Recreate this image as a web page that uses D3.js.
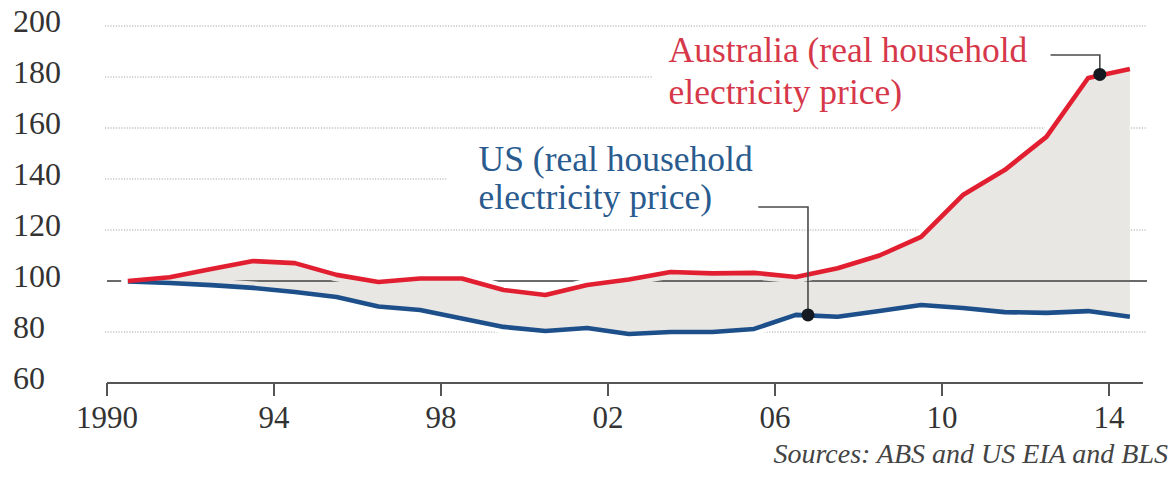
<!DOCTYPE html>
<html>
<head>
<meta charset="utf-8">
<script src="https://cdn.jsdelivr.net/npm/d3@7/dist/d3.min.js"></script>
<style>
  html, body { margin: 0; padding: 0; background: #fff; }
  svg { display: block; }
  text { font-family: "Liberation Serif", "Times New Roman", serif; }
</style>
</head>
<body>
<svg id="chart" width="1174" height="477"></svg>
<script>
// ---- data ----
const years = [1990.5, 1991.5, 1992.5, 1993.5, 1994.5, 1995.5, 1996.5, 1997.5, 1998.5, 1999.5,
               2000.5, 2001.5, 2002.5, 2003.5, 2004.5, 2005.5, 2006.5, 2007.5, 2008.5, 2009.5,
               2010.5, 2011.5, 2012.5, 2013.5, 2014.5];
const australia = [100, 101.5, 104.7, 107.8, 107, 102.4, 99.6, 101, 101, 96.5,
                   94.5, 98.4, 100.6, 103.5, 103, 103.2, 101.6, 105, 110, 117.3,
                   133.7, 143.5, 156.5, 179.6, 183.1];
const us = [99.8, 99.2, 98.4, 97.3, 95.7, 93.7, 90, 88.6, 85.3, 82,
            80.4, 81.6, 79.2, 80, 80, 81.2, 86.7, 86, 88.2, 90.6,
            89.4, 87.8, 87.5, 88.2, 86];
const yTicks = [60, 80, 100, 120, 140, 160, 180, 200];
const xTicks = [1990, 1994, 1998, 2002, 2006, 2010, 2014];
const xTickLabels = ["1990", "94", "98", "02", "06", "10", "14"];
const ausLabel = ["Australia (real household", "electricity price)"];
const usLabel = ["US (real household", "electricity price)"];
const source = "Sources: ABS and US EIA and BLS";
// annotation anchors (data units)
const ausDot = {year: 2013.78, value: 181};
const usDot = {year: 2006.79, value: 86.7};
const ausLabelPos = {year: 2003.45, value: 186};
const usLabelPos = {year: 1998.9, value: 143};
const ausLeader = {year: 2012.6, value: 188.6};
const usLeader = {year: 2005.6, value: 129};

// ---- layout ----
const svg = d3.select("#chart");
const x = d3.scaleLinear().domain([1990, 2014]).range([107, 1109]);
const y = d3.scaleLinear().domain([60, 200]).range([383, 26]);
const gridLeft = 105, gridRight = 1146;

const ausData = years.map((yr, i) => ({yr, v: australia[i]}));
const usData = years.map((yr, i) => ({yr, v: us[i]}));
const line = d3.line().x(d => x(d.yr)).y(d => y(d.v));

const defs = svg.append("defs");
const mask = defs.append("mask").attr("id", "gmask").attr("maskUnits", "userSpaceOnUse")
  .attr("x", 0).attr("y", 0).attr("width", 1174).attr("height", 477);
mask.append("rect").attr("width", 1174).attr("height", 477).attr("fill", "#fff");

// layer groups in drawing order
const gridG = svg.append("g").attr("mask", "url(#gmask)");
const fillG = svg.append("g");
const baseG = svg.append("g").attr("mask", "url(#gmask)");
const lineG = svg.append("g");
const axisG = svg.append("g");
const annG = svg.append("g");
const labelsG = svg.append("g");

// ---- labels ----
function addLabel(lines, pos, color, spacing) {
  const t = labelsG.append("text")
    .attr("x", x(pos.year)).attr("y", y(pos.value))
    .attr("fill", color).attr("font-size", 35.5);
  lines.forEach((s, i) => {
    t.append("tspan").attr("x", x(pos.year)).attr("dy", i === 0 ? 0 : spacing).text(s);
  });
  return t;
}
const ausText = addLabel(ausLabel, ausLabelPos, "#d6384a", 42);
const usText = addLabel(usLabel, usLabelPos, "#2a5b8e", 38);

// knockout areas in mask for gridlines
[[ausText, 16], [usText, 32]].forEach(([t, pad]) => {
  const b = t.node().getBBox();
  mask.append("rect").attr("x", b.x - pad).attr("y", b.y + 4)
    .attr("width", gridRight + 10 - (b.x - pad)).attr("height", b.height - 4)
    .attr("fill", "#000");
});
// line halos in mask
[ausData, usData].forEach(d => {
  mask.append("path").attr("d", line(d)).attr("fill", "none")
    .attr("stroke", "#000").attr("stroke-width", 13).attr("stroke-linecap", "round")
    .attr("stroke-linejoin", "round");
});

// ---- gridlines ----
gridG.selectAll("line").data(yTicks.filter(v => v !== 60 && v !== 100)).join("line")
  .attr("x1", gridLeft).attr("x2", gridRight)
  .attr("y1", d => y(d)).attr("y2", d => y(d))
  .attr("stroke", "#c2c2c2").attr("stroke-width", 1.5).attr("stroke-dasharray", "1.2,1.5");

// ---- area between ----
const area = d3.area().x(d => x(d.yr)).y0((d, i) => y(us[i])).y1(d => y(d.v));
fillG.append("path").attr("d", area(ausData)).attr("fill", "#e9e7e3");

// baseline at 100
baseG.append("line").attr("x1", x(1990)).attr("x2", gridRight + 1)
  .attr("y1", y(100)).attr("y2", y(100)).attr("stroke", "#6a6a6a").attr("stroke-width", 2);

// ---- lines ----
lineG.append("path").attr("d", line(usData)).attr("fill", "none")
  .attr("stroke", "#1d508b").attr("stroke-width", 4.6).attr("stroke-linejoin", "round");
lineG.append("path").attr("d", line(ausData)).attr("fill", "none")
  .attr("stroke", "#e21f30").attr("stroke-width", 4.6).attr("stroke-linejoin", "round");

// ---- x axis ----
axisG.append("line").attr("x1", x(1990)).attr("x2", gridRight - 3)
  .attr("y1", y(60)).attr("y2", y(60)).attr("stroke", "#555").attr("stroke-width", 2);
axisG.selectAll("line.tick").data(xTicks).join("line").attr("class", "tick")
  .attr("x1", d => x(d)).attr("x2", d => x(d))
  .attr("y1", y(60)).attr("y2", y(60) + 13).attr("stroke", "#555").attr("stroke-width", 2);
axisG.selectAll("text.xt").data(xTicks).join("text").attr("class", "xt")
  .attr("x", d => x(d)).attr("y", y(60) + 45).attr("text-anchor", "middle")
  .attr("font-size", 31).attr("fill", "#333")
  .text((d, i) => xTickLabels[i]);

// ---- y labels ----
axisG.selectAll("text.yt").data(yTicks).join("text").attr("class", "yt")
  .attr("x", 13).attr("y", d => y(d) + 6)
  .attr("font-size", 32).attr("fill", "#333").text(d => d);

// ---- leaders & dots ----
const leadG = annG.append("g").attr("fill", "none").attr("stroke", "#4a4a4a").attr("stroke-width", 1.6);
leadG.append("polyline").attr("points", [
  [x(ausLeader.year), y(ausLeader.value)], [x(ausDot.year), y(ausLeader.value)], [x(ausDot.year), y(ausDot.value)]
].join(" "));
leadG.append("polyline").attr("points", [
  [x(usLeader.year), y(usLeader.value)], [x(usDot.year), y(usLeader.value)], [x(usDot.year), y(usDot.value)]
].join(" "));
annG.selectAll("circle").data([ausDot, usDot]).join("circle")
  .attr("cx", d => x(d.year)).attr("cy", d => y(d.value)).attr("r", 6.5).attr("fill", "#151a22");

// ---- source ----
labelsG.append("text").attr("x", 1168).attr("y", 463).attr("text-anchor", "end")
  .attr("font-size", 28).attr("font-style", "italic").attr("fill", "#444").text(source);
</script>
</body>
</html>
